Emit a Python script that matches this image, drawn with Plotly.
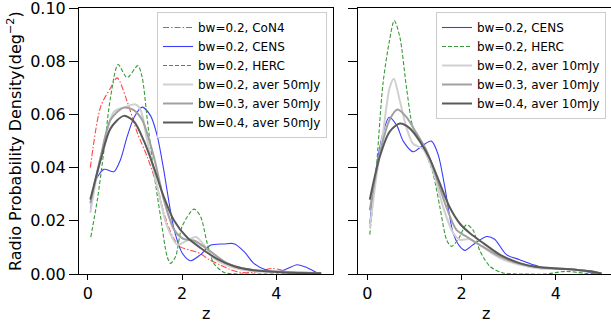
import plotly.graph_objects as go

# ---------------- data ----------------
# Left panel
con4_z = [0.05, 0.27, 0.48, 0.62, 0.83, 1.05, 1.26, 1.47, 1.62, 1.8, 1.95, 2.16, 2.37, 2.58, 2.8, 3.0, 3.24, 3.5, 3.75, 3.9, 4.1, 4.3, 4.6]
con4_v = [0.040, 0.063, 0.070, 0.0738, 0.065, 0.053, 0.044, 0.033, 0.0225, 0.014, 0.0103, 0.009, 0.0078, 0.0053, 0.0035, 0.0018, 0.0006, 0.0006, 0.0015, 0.0021, 0.0015, 0.0005, 0.0]

cens_l_z = [0.06, 0.16, 0.34, 0.55, 0.69, 0.83, 0.98, 1.15, 1.33, 1.47, 1.6, 1.72, 1.83, 2.0, 2.18, 2.39, 2.6, 2.89, 3.1, 3.31, 3.52, 3.8, 4.09, 4.44, 4.66, 4.87]
cens_l_v = [0.0244, 0.035, 0.0394, 0.0385, 0.043, 0.0516, 0.059, 0.0628, 0.0595, 0.052, 0.040, 0.027, 0.0166, 0.0079, 0.005, 0.0073, 0.0108, 0.0113, 0.0114, 0.0085, 0.004, 0.0014, 0.001, 0.0035, 0.0023, 0.0004]

herc_l_z = [0.06, 0.2, 0.34, 0.48, 0.64, 0.83, 1.06, 1.15, 1.26, 1.4, 1.54, 1.68, 1.75, 1.86, 2.0, 2.25, 2.39, 2.53, 2.67, 2.89, 3.2, 4.0, 4.9]
herc_l_v = [0.0139, 0.028, 0.0466, 0.0666, 0.0788, 0.0739, 0.0784, 0.074, 0.058, 0.038, 0.0216, 0.0066, 0.004, 0.0066, 0.018, 0.0244, 0.0216, 0.0116, 0.004, 0.0006, 0.0, 0.0, 0.0]

avg02_l_z = [0.05, 0.27, 0.55, 0.76, 1.01, 1.12, 1.26, 1.47, 1.68, 1.9, 2.07, 2.29, 2.46, 2.67, 3.1, 3.52, 4.0, 4.5, 4.95]
avg02_l_v = [0.023, 0.044, 0.061, 0.0626, 0.0638, 0.0616, 0.050, 0.033, 0.018, 0.011, 0.0123, 0.0139, 0.011, 0.006, 0.0023, 0.001, 0.0008, 0.0006, 0.0003]

avg03_l_z = [0.05, 0.27, 0.48, 0.76, 0.98, 1.15, 1.4, 1.61, 1.83, 2.04, 2.25, 2.53, 2.96, 3.45, 4.0, 4.5, 4.95]
avg03_l_v = [0.0266, 0.044, 0.058, 0.0626, 0.0616, 0.058, 0.044, 0.028, 0.0166, 0.0131, 0.0126, 0.0094, 0.004, 0.0016, 0.0009, 0.0006, 0.0003]

avg04_l_z = [0.05, 0.27, 0.48, 0.76, 0.98, 1.19, 1.4, 1.61, 1.83, 2.1, 2.39, 2.75, 3.1, 3.52, 4.16, 4.95]
avg04_l_v = [0.028, 0.043, 0.0548, 0.0595, 0.0573, 0.050, 0.040, 0.029, 0.020, 0.0138, 0.0098, 0.0056, 0.0029, 0.0014, 0.0006, 0.0003]

# Right panel
cens_r_z = [0.05, 0.19, 0.33, 0.46, 0.62, 0.76, 0.97, 1.18, 1.36, 1.5, 1.64, 1.82, 1.96, 2.07, 2.24, 2.53, 2.7, 2.95, 3.23, 3.52, 3.8, 4.22, 4.5, 4.72, 4.97]
cens_r_v = [0.0189, 0.040, 0.053, 0.059, 0.056, 0.050, 0.046, 0.0485, 0.050, 0.045, 0.033, 0.0154, 0.0104, 0.0089, 0.011, 0.0141, 0.0131, 0.0073, 0.0054, 0.0035, 0.0021, 0.0019, 0.0016, 0.0006, 0.0]

herc_r_z = [0.05, 0.19, 0.33, 0.47, 0.57, 0.69, 0.83, 0.97, 1.18, 1.39, 1.54, 1.68, 1.78, 1.93, 2.1, 2.24, 2.38, 2.6, 2.88, 3.3, 3.8, 4.2, 4.6, 4.95]
herc_r_v = [0.0148, 0.040, 0.0716, 0.088, 0.0954, 0.089, 0.070, 0.055, 0.048, 0.038, 0.025, 0.0129, 0.0104, 0.0131, 0.0185, 0.0166, 0.009, 0.0029, 0.0004, 0.0, 0.0, 0.001, 0.0003, 0.0]

avg02_r_z = [0.05, 0.19, 0.33, 0.47, 0.56, 0.69, 0.83, 0.97, 1.18, 1.39, 1.61, 1.82, 1.96, 2.17, 2.38, 2.81, 3.23, 3.66, 4.22, 4.72, 4.97]
avg02_r_v = [0.0173, 0.0366, 0.053, 0.070, 0.0735, 0.065, 0.055, 0.049, 0.047, 0.039, 0.025, 0.0154, 0.0129, 0.0131, 0.011, 0.006, 0.0035, 0.0021, 0.0019, 0.001, 0.0002]

avg03_r_z = [0.05, 0.26, 0.47, 0.64, 0.83, 1.04, 1.25, 1.46, 1.68, 1.89, 2.1, 2.38, 2.81, 3.23, 3.66, 4.22, 4.72, 4.97]
avg03_r_v = [0.024, 0.045, 0.058, 0.0619, 0.059, 0.053, 0.0466, 0.0366, 0.025, 0.0166, 0.0141, 0.011, 0.0066, 0.0039, 0.0025, 0.0019, 0.001, 0.0002]

avg04_r_z = [0.05, 0.26, 0.47, 0.69, 0.9, 1.11, 1.32, 1.54, 1.75, 1.96, 2.17, 2.46, 2.81, 3.23, 3.66, 4.22, 4.72, 4.97]
avg04_r_v = [0.028, 0.044, 0.0535, 0.0566, 0.0548, 0.050, 0.0435, 0.034, 0.025, 0.019, 0.0154, 0.0116, 0.0073, 0.0041, 0.0025, 0.0019, 0.001, 0.0002]

y_ticks = [0.0, 0.02, 0.04, 0.06, 0.08, 0.10]
y_tick_text = ["0.00", "0.02", "0.04", "0.06", "0.08", "0.10"]
x_ticks = [0, 2, 4]

# ---------------- styles ----------------
W, H = 611, 326
FONT = "DejaVu Sans"
RED = "#ff4646"
BLUE = "#3c3cff"
GREEN = "#3a9a3a"
LIGHT = "rgb(208,208,208)"
MID = "rgb(160,160,160)"
DARK = "rgb(90,90,90)"
DASHDOT = "6px,2px,1.5px,2px"
DASHED = "4px,2px"

fig = go.Figure()


def add(z, v, name, color, width, dash, xa, ya, legend):
    fig.add_trace(go.Scatter(
        x=z, y=v, mode="lines", name=name,
        line=dict(color=color, width=width, dash=dash, shape="spline", smoothing=0.8),
        xaxis=xa, yaxis=ya, legend=legend))


add(con4_z, con4_v, "bw=0.2, CoN4", RED, 1.1, DASHDOT, "x", "y", "legend")
add(cens_l_z, cens_l_v, "bw=0.2, CENS", BLUE, 1.1, "solid", "x", "y", "legend")
add(herc_l_z, herc_l_v, "bw=0.2, HERC", GREEN, 1.1, DASHED, "x", "y", "legend")
add(avg02_l_z, avg02_l_v, "bw=0.2, aver 50mJy", LIGHT, 2, "solid", "x", "y", "legend")
add(avg03_l_z, avg03_l_v, "bw=0.3, aver 50mJy", MID, 2, "solid", "x", "y", "legend")
add(avg04_l_z, avg04_l_v, "bw=0.4, aver 50mJy", DARK, 2, "solid", "x", "y", "legend")

add(cens_r_z, cens_r_v, "bw=0.2, CENS", BLUE, 1.1, "solid", "x2", "y2", "legend2")
add(herc_r_z, herc_r_v, "bw=0.2, HERC", GREEN, 1.1, DASHED, "x2", "y2", "legend2")
add(avg02_r_z, avg02_r_v, "bw=0.2, aver 10mJy", LIGHT, 2, "solid", "x2", "y2", "legend2")
add(avg03_r_z, avg03_r_v, "bw=0.3, aver 10mJy", MID, 2, "solid", "x2", "y2", "legend2")
add(avg04_r_z, avg04_r_v, "bw=0.4, aver 10mJy", DARK, 2, "solid", "x2", "y2", "legend2")

ydom = [1 - 274 / H, 1 - 7.7 / H]
common = dict(showline=True, linecolor="black", linewidth=1, ticks="outside",
              tickwidth=1, tickcolor="black", showgrid=False,
              zeroline=False, automargin=False, ticklabeloverflow="allow",
              tickfont=dict(family=FONT, size=16, color="black"))

legend_common = dict(font=dict(family=FONT, size=12, color="black"),
                     bgcolor="rgba(255,255,255,0.85)", bordercolor="#cccccc",
                     borderwidth=1, xanchor="left", yanchor="top",
                     tracegroupgap=0, itemwidth=30)

YRANGE = [0, 0.1002]

fig.update_layout(
    width=W, height=H,
    margin=dict(l=0, r=0, t=0, b=0),
    paper_bgcolor="white", plot_bgcolor="white",
    font=dict(family=FONT, color="black"),
    xaxis=dict(domain=[79 / W, 333 / W], range=[-0.19, 5.2], tickvals=x_ticks,
               ticklen=5, mirror=True, anchor="y", **common),
    yaxis=dict(domain=ydom, range=YRANGE, tickvals=y_ticks, ticktext=y_tick_text,
               ticklen=9, mirror=True, anchor="x", **common),
    xaxis2=dict(domain=[358 / W, 1.0], range=[-0.2, 5.17], tickvals=x_ticks,
                ticklen=5, mirror=True, anchor="y2", **common),
    yaxis2=dict(domain=ydom, range=YRANGE, tickvals=y_ticks, showticklabels=False,
                ticklen=9, mirror=False, anchor="x2", **common),
    legend=dict(x=157 / W, y=1 - 12 / H, **legend_common),
    legend2=dict(x=436 / W, y=1 - 12 / H, **legend_common),
    annotations=[
        dict(text="z", x=206 / W, y=1 - 313 / H, xref="paper", yref="paper",
             showarrow=False, font=dict(family=FONT, size=16, color="black"),
             xanchor="center", yanchor="middle"),
        dict(text="z", x=486 / W, y=1 - 313 / H, xref="paper", yref="paper",
             showarrow=False, font=dict(family=FONT, size=16, color="black"),
             xanchor="center", yanchor="middle"),
        dict(text="Radio Probability Density(deg<sup>\u22122</sup>)", x=15 / W,
             y=1 - 141 / H, xref="paper", yref="paper", textangle=-90,
             showarrow=False, font=dict(family=FONT, size=16, color="black"),
             xanchor="center", yanchor="middle"),
    ],
)

fig.write_html("out.html")
